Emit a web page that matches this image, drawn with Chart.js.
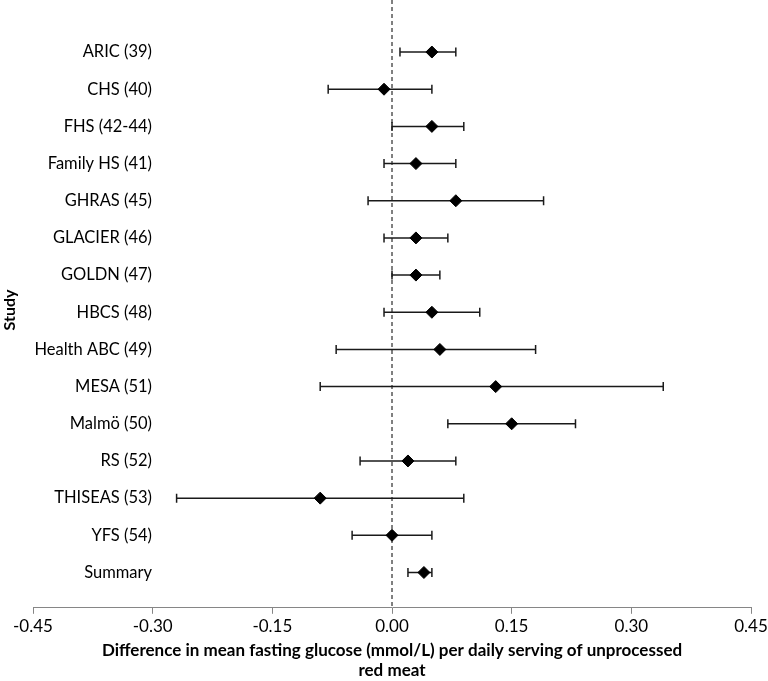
<!DOCTYPE html>
<html>
<head>
<meta charset="utf-8">
<script src="https://cdn.jsdelivr.net/npm/chart.js@4"></script>
<style>
    html, body { margin: 0; padding: 0; background: #fff; }
    #wrap { width: 768px; height: 681px; }
</style>
</head>
<body>
<div id="wrap"><canvas id="forest"></canvas></div>
<script>
// Study labels, top to bottom
const studies = [
    'ARIC (39)', 'CHS (40)', 'FHS (42-44)', 'Family HS (41)', 'GHRAS (45)',
    'GLACIER (46)', 'GOLDN (47)', 'HBCS (48)', 'Health ABC (49)', 'MESA (51)',
    'Malmö (50)', 'RS (52)', 'THISEAS (53)', 'YFS (54)', 'Summary'
];

// Point estimates and 95% CI (mmol/L per daily serving)
const estimates = [0.05, -0.01, 0.05, 0.03, 0.08, 0.03, 0.03, 0.05, 0.06, 0.13, 0.15, 0.02, -0.09, 0.00, 0.04];
const lowerCI = [0.01, -0.08, 0.00, -0.01, -0.03, -0.01, 0.00, -0.01, -0.07, -0.09, 0.07, -0.04, -0.27, -0.05, 0.02];
const upperCI = [0.08, 0.05, 0.09, 0.08, 0.19, 0.07, 0.06, 0.11, 0.18, 0.34, 0.23, 0.08, 0.09, 0.05, 0.05];

// X axis tick labels
const xTicks = [-0.45, -0.30, -0.15, 0.00, 0.15, 0.30, 0.45];

const FONT = 'Lato, "Open Sans", sans-serif';
const LABEL_SIZE = 16.5;
const Y_MIN = -0.4, Y_MAX = 15.95;

// Study labels are right-aligned at x=152, inside the plot area
const measure = document.createElement('canvas').getContext('2d');
measure.font = LABEL_SIZE + 'px ' + FONT;
const widest = Math.max(...studies.map(s => measure.measureText(s).width));
const labelPad = 119 - widest;

// Build one small line per study for the CI whiskers
const ciSets = studies.map((name, i) => ({
    type: 'line',
    label: name + ' CI',
    data: [{ x: lowerCI[i], y: i + 1 }, { x: upperCI[i], y: i + 1 }],
    borderColor: '#1a1a1a',
    borderWidth: 1.5,
    pointStyle: 'line',
    rotation: 90,
    pointRadius: 4.5,
    pointBorderColor: '#1a1a1a',
    pointBorderWidth: 1.5,
    order: 2
}));

// Reference line at zero effect
const zeroLine = {
    type: 'line',
    label: 'zero',
    data: [{ x: 0, y: Y_MIN }, { x: 0, y: Y_MAX }],
    borderColor: '#000',
    borderWidth: 1,
    borderDash: [4, 3],
    pointRadius: 0,
    order: 3
};

const pointSet = {
    type: 'scatter',
    label: 'Estimate',
    data: estimates.map((v, i) => ({ x: v, y: i + 1 })),
    pointStyle: 'rectRot',
    pointRadius: 6,
    backgroundColor: '#000',
    borderColor: '#000',
    borderWidth: 1,
    order: 1
};

new Chart(document.getElementById('forest'), {
    data: { datasets: [zeroLine, ...ciSets, pointSet] },
    options: {
        responsive: true,
        maintainAspectRatio: false,
        animation: false,
        events: [],
        layout: { autoPadding: false, padding: { left: 33, right: 17, top: 0, bottom: 0 } },
        plugins: {
            legend: { display: false },
            tooltip: { enabled: false }
        },
        scales: {
            x: {
                type: 'linear',
                min: -0.45,
                max: 0.45,
                afterBuildTicks: scale => { scale.ticks = xTicks.map(v => ({ value: v })); },
                afterFit: scale => {
                    scale.paddingLeft = 0;
                    scale.paddingRight = 0;
                },
                grid: {
                    drawOnChartArea: false,
                    drawTicks: true,
                    tickLength: 6,
                    color: '#868686'
                },
                border: { color: '#868686', width: 1 },
                ticks: {
                    padding: 3,
                    color: '#000',
                    font: { family: FONT, size: 17 },
                    callback: v => v.toFixed(2)
                },
                title: {
                    display: true,
                    text: ['Difference in mean fasting glucose (mmol/L) per daily serving of unprocessed', 'red meat'],
                    color: '#000',
                    font: { family: FONT, size: 17, weight: 'bold', lineHeight: 1.2 },
                    padding: { top: 0, bottom: 0 }
                }
            },
            y: {
                type: 'linear',
                reverse: true,
                min: Y_MIN,
                max: Y_MAX,
                afterBuildTicks: scale => { scale.ticks = studies.map((s, i) => ({ value: i + 1 })); },
                afterFit: scale => {
                    scale.width = 0;
                    scale.paddingTop = 0;
                    scale.paddingBottom = 0;
                },
                grid: { display: false },
                border: { display: false },
                ticks: {
                    mirror: true,
                    crossAlign: 'far',
                    padding: labelPad,
                    color: '#000',
                    font: { family: FONT, size: LABEL_SIZE },
                    callback: v => studies[v - 1]
                },
                title: { display: false }
            }
        }
    },
    plugins: [{
        // "Study" axis label sits at the far left edge, rotated
        id: 'studyLabel',
        afterDraw(chart) {
            const ctx = chart.ctx;
            ctx.save();
            ctx.translate(10, 310);
            ctx.rotate(-Math.PI / 2);
            ctx.font = 'bold 16px ' + FONT;
            ctx.fillStyle = '#000';
            ctx.textAlign = 'center';
            ctx.textBaseline = 'middle';
            ctx.fillText('Study', 0, 0);
            ctx.restore();
        }
    }]
});
</script>
</body>
</html>
